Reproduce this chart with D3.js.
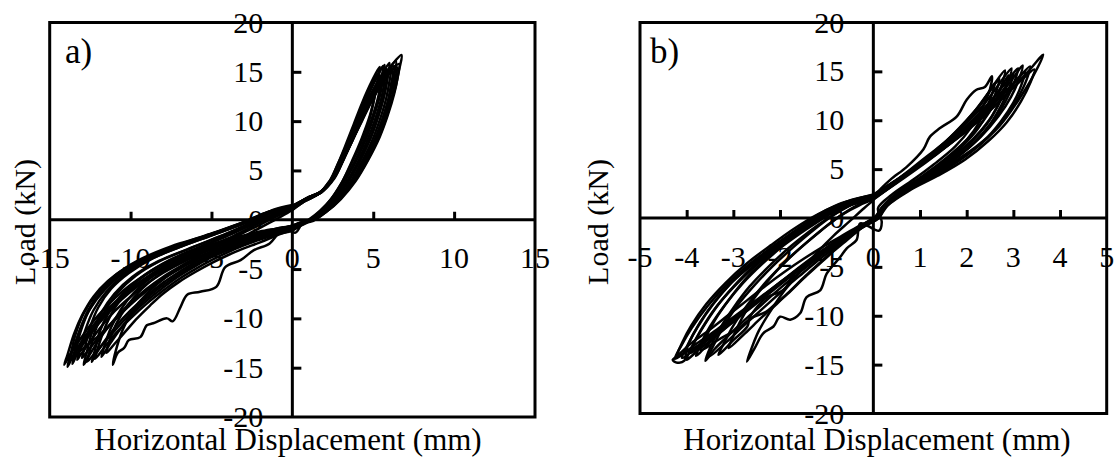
<!DOCTYPE html>
<html>
<head>
<meta charset="utf-8">
<script src="https://cdn.jsdelivr.net/npm/d3@7"></script>
<style>
  body { margin: 0; background: #fff; }
  text { font-family: "Liberation Serif", "Times New Roman", serif; fill: #000; }
</style>
</head>
<body>
<svg id="chart" width="1114" height="461"></svg>
<script>
// ---------- Tick labels ----------
const xTicksA = [-15, -10, -5, 0, 5, 10, 15];
const xTicksB = [-5, -4, -3, -2, -1, 0, 1, 2, 3, 4, 5];
const yTicks = [-20, -15, -10, -5, 0, 5, 10, 15, 20];

// ---------- Specimen a: load cycles [displacement mm, load kN] ----------
const cycleA1 = [[0,1.0],[0.8,1.9],[1.6,2.6],[2.3,3.9],[2.8,5.6],[3.3,7.6],[3.8,9.7],[4.3,11.8],[4.9,14.0],[5.4,15.5],
  [5.3,14.2],[5.1,12.6],[4.8,10.6],[4.3,8.3],[3.7,6.0],[3.1,3.9],[2.4,2.1],[1.7,0.9],[1.0,0.0],
  [0.6,-0.4],[0.2,-1.3],[-0.4,-1.0],[-0.8,-1.3],[-1.4,-2.4],[-2.4,-3.1],[-3.2,-4.1],[-4.15,-4.8],[-4.7,-6.8],[-5.7,-7.3],
  [-6.5,-7.6],[-6.9,-8.8],[-7.4,-10.3],[-7.75,-10.0],[-8.6,-10.5],[-9.0,-10.7],[-9.4,-11.9],[-10.1,-12.2],[-10.4,-13.0],
  [-10.8,-13.5],[-11.1,-14.7],
  [-10.9,-13.2],[-10.5,-11.2],[-9.9,-9.3],[-9.0,-7.5],[-7.8,-5.8],[-6.3,-4.3],[-4.6,-3.0],[-2.9,-1.6],[-1.4,-0.3],[-0.3,0.7],[0,1.0]];
const cycleA2 = [[0,1.1],[0.8,2.0],[1.7,2.7],[2.4,4.0],[2.9,5.7],[3.4,7.5],[3.9,9.5],[4.4,11.5],[5.0,13.7],[5.7,15.7],
  [5.6,14.3],[5.4,12.5],[5.0,10.3],[4.5,8.0],[3.9,5.8],[3.2,3.8],[2.5,2.1],[1.8,0.8],[1.1,0.0],
  [0.5,-0.5],[0,-0.9],[-1,-1.4],[-2,-1.9],[-3,-2.5],[-4,-3.1],[-5,-3.8],[-6,-4.7],[-7,-5.7],[-8,-6.9],[-9,-8.2],
  [-9.9,-9.6],[-10.6,-11.0],[-11.2,-12.4],[-11.8,-13.9],
  [-11.6,-12.7],[-11.2,-10.9],[-10.6,-9.1],[-9.8,-7.4],[-8.7,-5.8],[-7.2,-4.2],[-5.4,-2.9],[-3.6,-1.6],[-2.0,-0.3],[-0.8,0.6],[0,1.1]];
const cycleA3 = [[0,1.2],[0.9,2.1],[1.8,2.8],[2.5,4.1],[3.0,5.7],[3.5,7.5],[4.0,9.4],[4.6,11.6],[5.2,13.6],[5.9,15.2],
  [5.8,13.9],[5.6,12.2],[5.2,10.0],[4.7,7.8],[4.1,5.7],[3.4,3.7],[2.6,2.0],[1.9,0.8],[1.2,0.0],
  [0.5,-0.4],[0,-0.8],[-1,-1.2],[-2,-1.7],[-3,-2.2],[-4,-2.8],[-5,-3.5],[-6,-4.3],[-7,-5.3],[-8,-6.4],[-9,-7.7],
  [-10,-9.2],[-10.8,-10.6],[-11.6,-12.3],[-12.1,-13.5],[-12.4,-14.4],
  [-12.2,-13.2],[-11.9,-11.3],[-11.3,-9.3],[-10.5,-7.5],[-9.4,-5.9],[-7.9,-4.4],[-6.0,-3.0],[-4.1,-1.7],[-2.4,-0.4],[-1.0,0.6],[0,1.2]];
const cycleA4 = [[0,1.2],[0.9,2.1],[1.8,2.8],[2.5,4.1],[3.0,5.8],[3.6,7.8],[4.1,9.6],[4.7,11.7],[5.4,13.8],[6.1,15.4],
  [6.0,14.0],[5.8,12.3],[5.4,10.1],[4.9,7.9],[4.2,5.6],[3.5,3.6],[2.7,1.9],[2.0,0.8],[1.3,0.0],
  [0.5,-0.4],[0,-0.7],[-1,-1.1],[-2,-1.5],[-3,-2.0],[-4,-2.6],[-5,-3.2],[-6,-3.9],[-7,-4.8],[-8,-5.8],[-9,-7.0],
  [-10,-8.4],[-11,-10.1],[-11.8,-11.8],[-12.5,-13.6],[-12.9,-14.7],
  [-12.7,-13.4],[-12.4,-11.5],[-11.8,-9.4],[-11.0,-7.5],[-9.9,-5.8],[-8.4,-4.3],[-6.5,-3.0],[-4.5,-1.7],[-2.7,-0.4],[-1.2,0.7],[0,1.2]];
const cycleA5 = [[0,1.3],[0.9,2.2],[1.8,2.9],[2.5,4.2],[3.1,6.0],[3.6,7.8],[4.2,9.9],[4.8,11.9],[5.5,14.0],[6.3,15.6],
  [6.2,14.2],[6.0,12.5],[5.6,10.3],[5.1,8.1],[4.4,5.8],[3.7,3.8],[2.8,2.0],[2.0,0.8],[1.3,0.0],
  [0.5,-0.3],[0,-0.6],[-1,-1.0],[-2,-1.4],[-3,-1.9],[-4,-2.4],[-5,-3.0],[-6,-3.7],[-7,-4.5],[-8,-5.4],[-9,-6.5],
  [-10,-7.8],[-11,-9.3],[-11.9,-11.0],[-12.6,-12.6],[-13.1,-13.7],[-13.3,-14.2],
  [-13.1,-13.0],[-12.8,-11.2],[-12.3,-9.2],[-11.5,-7.3],[-10.4,-5.6],[-8.9,-4.1],[-7.0,-2.8],[-5.0,-1.6],[-3.0,-0.4],[-1.4,0.7],[0,1.3]];
const cycleA6 = [[0,1.3],[0.9,2.2],[1.8,2.9],[2.6,4.3],[3.1,6.0],[3.7,8.0],[4.3,10.1],[4.9,12.1],[5.6,14.0],[6.45,15.5],
  [6.35,14.1],[6.15,12.4],[5.8,10.3],[5.3,8.2],[4.6,5.9],[3.8,3.8],[2.9,2.0],[2.1,0.8],[1.3,-0.1],
  [0.5,-0.4],[0,-0.7],[-1,-1.0],[-2,-1.4],[-3,-1.8],[-4,-2.3],[-5,-2.9],[-6,-3.5],[-7,-4.2],[-8,-5.1],[-9,-6.1],
  [-10,-7.3],[-11,-8.8],[-12,-10.6],[-12.8,-12.3],[-13.3,-13.6],[-13.6,-14.6],
  [-13.4,-13.3],[-13.1,-11.4],[-12.6,-9.3],[-11.8,-7.3],[-10.7,-5.5],[-9.2,-4.0],[-7.3,-2.7],[-5.2,-1.5],[-3.1,-0.3],[-1.5,0.8],[0,1.3]];
const cycleA7 = [[0,1.4],[0.9,2.2],[1.8,2.9],[2.6,4.3],[3.2,6.2],[3.7,8.0],[4.3,10.0],[4.9,12.0],[5.6,14.0],[6.6,15.8],
  [6.5,14.4],[6.3,12.8],[5.9,10.6],[5.4,8.4],[4.7,6.1],[3.9,3.9],[3.0,2.1],[2.1,0.8],[1.3,0.0],
  [0.5,-0.3],[0,-0.6],[-1,-0.9],[-2,-1.3],[-3,-1.7],[-4,-2.2],[-5,-2.7],[-6,-3.3],[-7,-4.0],[-8,-4.8],[-9,-5.8],
  [-10,-7.0],[-11,-8.4],[-12,-10.1],[-12.9,-12.0],[-13.5,-13.6],[-13.9,-14.9],
  [-13.7,-13.6],[-13.4,-11.6],[-12.9,-9.5],[-12.1,-7.5],[-11.0,-5.7],[-9.5,-4.1],[-7.5,-2.7],[-5.3,-1.6],[-3.2,-0.4],[-1.5,0.8],[0,1.4]];
const cycleA8 = [[0,1.4],[0.9,2.2],[1.8,2.9],[2.5,4.2],[3.1,6.0],[3.7,8.0],[4.3,10.2],[4.9,12.3],[5.5,14.2],[6.1,15.6],[6.75,16.7],
  [6.6,15.2],[6.4,13.6],[6.0,11.5],[5.4,8.9],[4.7,6.5],[3.9,4.2],[3.0,2.4],[2.2,1.1],[1.3,0.1],
  [0.5,-0.3],[0,-0.6],[-1,-0.9],[-2,-1.2],[-3,-1.6],[-4,-2.0],[-5,-2.5],[-6,-3.1],[-7,-3.8],[-8,-4.6],[-9,-5.5],
  [-10,-6.6],[-11,-8.0],[-12,-9.7],[-12.9,-11.6],[-13.6,-13.3],[-14.1,-14.7],
  [-13.9,-13.7],[-13.5,-11.6],[-13.0,-9.7],[-12.3,-7.8],[-11.4,-6.2],[-10.3,-4.9],[-8.8,-3.7],[-6.8,-2.5],[-4.6,-1.3],[-2.6,-0.1],[-1.2,1.0],[0,1.5]];
const cycleA9 = [[0,1.3],[0.9,2.1],[1.8,2.8],[2.6,4.2],[3.1,5.9],[3.5,7.6],[3.9,9.2],[4.3,10.6],[4.6,12.4],[5.0,12.9],[5.5,14.0],[6.2,15.0],
  [6.1,13.7],[5.9,12.0],[5.5,9.9],[5.0,7.8],[4.3,5.6],[3.6,3.7],[2.8,2.0],[2.0,0.8],[1.3,0.0],
  [0.5,-0.4],[0,-0.8],[-1,-1.2],[-2,-1.6],[-3,-2.1],[-4,-2.7],[-5,-3.3],[-6,-4.1],[-7,-5.0],[-8,-6.0],[-9,-7.2],
  [-10,-8.6],[-11,-10.2],[-12,-11.8],[-12.9,-13.0],[-13.7,-14.0],
  [-13.5,-12.9],[-13.1,-11.0],[-12.5,-9.0],[-11.6,-7.1],[-10.5,-5.5],[-9.0,-4.0],[-7.1,-2.7],[-5.1,-1.5],[-3.1,-0.3],[-1.4,0.7],[0,1.3]];
const cycleA10 = [[0,1.0],[0.8,1.9],[1.6,2.6],[2.3,3.9],[2.8,5.6],[3.3,7.4],[3.8,9.4],[4.3,11.4],[4.9,13.6],[5.6,15.6],
  [5.5,14.2],[5.3,12.4],[4.9,10.2],[4.4,7.9],[3.8,5.7],[3.1,3.7],[2.4,2.0],[1.7,0.8],[1.0,-0.1],
  [0.5,-0.6],[0,-1.0],[-1,-1.6],[-2,-2.3],[-3,-2.9],[-4,-3.6],[-5,-4.4],[-6,-5.3],[-7,-6.3],[-8,-7.5],[-8.8,-8.7],
  [-9.6,-10.0],[-10.3,-11.3],[-11.0,-12.6],[-11.5,-13.5],
  [-11.3,-12.3],[-10.9,-10.6],[-10.2,-8.7],[-9.3,-7.0],[-8.1,-5.4],[-6.5,-3.9],[-4.7,-2.6],[-3.0,-1.3],[-1.5,-0.1],[-0.5,0.7],[0,1.0]];
const cycleA11 = [[0,1.2],[0.85,2.1],[1.75,2.8],[2.45,4.1],[3.0,5.9],[3.5,7.7],[4.0,9.6],[4.6,11.8],[5.3,14.0],[6.0,15.9],
  [5.9,14.5],[5.7,12.7],[5.3,10.4],[4.8,8.1],[4.1,5.8],[3.4,3.8],[2.6,2.0],[1.9,0.8],[1.2,0.0],
  [0.5,-0.5],[0,-0.8],[-1,-1.2],[-2,-1.6],[-3,-2.1],[-4,-2.6],[-5,-3.2],[-6,-4.0],[-7,-4.9],[-8,-5.9],[-9,-7.1],
  [-10,-8.5],[-11,-10.2],[-12,-12.0],[-12.6,-13.2],[-13.0,-14.0],
  [-12.8,-12.8],[-12.5,-10.9],[-12.0,-8.9],[-11.2,-7.0],[-10.1,-5.4],[-8.6,-3.9],[-6.7,-2.6],[-4.7,-1.4],[-2.8,-0.2],[-1.2,0.8],[0,1.2]];
const cycleA12 = [[0,1.1],[0.8,2.0],[1.7,2.7],[2.35,3.9],[2.85,5.6],[3.3,7.3],[3.75,9.2],[4.2,11.1],[4.75,13.2],[5.3,14.8],
  [5.2,13.5],[5.0,11.8],[4.7,9.8],[4.2,7.6],[3.6,5.5],[3.0,3.6],[2.3,1.9],[1.6,0.7],[1.0,-0.2],
  [0.4,-0.7],[0,-1.1],[-1,-1.5],[-2,-2.0],[-3,-2.6],[-4,-3.3],[-5,-4.1],[-6,-5.0],[-7,-6.0],[-8,-7.2],[-9,-8.5],
  [-10,-10.0],[-10.9,-11.5],[-11.6,-12.9],[-12.2,-14.1],
  [-12.0,-12.9],[-11.6,-11.0],[-11.0,-9.0],[-10.2,-7.2],[-9.1,-5.6],[-7.6,-4.1],[-5.8,-2.8],[-3.9,-1.5],[-2.2,-0.3],[-0.9,0.6],[0,1.1]];
const cycleA13 = [[0,1.35],[0.9,2.15],[1.8,2.85],[2.55,4.25],[3.15,6.1],[3.65,7.9],[4.25,10.0],[4.85,12.1],[5.55,14.2],[6.4,16.1],
  [6.3,14.6],[6.1,12.9],[5.75,10.7],[5.25,8.5],[4.55,6.1],[3.8,4.0],[2.9,2.1],[2.05,0.8],[1.3,0.0],
  [0.5,-0.35],[0,-0.65],[-1,-0.95],[-2,-1.35],[-3,-1.8],[-4,-2.3],[-5,-2.8],[-6,-3.4],[-7,-4.1],[-8,-4.95],[-9,-5.95],
  [-10,-7.15],[-11,-8.6],[-12,-10.4],[-12.9,-12.3],[-13.4,-13.5],[-13.6,-14.2],
  [-13.4,-13.0],[-13.1,-11.1],[-12.6,-9.1],[-11.8,-7.2],[-10.7,-5.5],[-9.2,-4.0],[-7.2,-2.7],[-5.1,-1.5],[-3.0,-0.3],[-1.4,0.8],[0,1.35]];
const cycleA14 = [[0,1.15],[0.85,2.05],[1.75,2.75],[2.45,4.05],[2.95,5.7],[3.45,7.5],[3.95,9.4],[4.5,11.5],[5.1,13.5],[5.8,15.3],
  [5.7,14.0],[5.5,12.3],[5.1,10.1],[4.6,7.9],[4.0,5.7],[3.3,3.7],[2.55,2.0],[1.85,0.8],[1.15,0.0],
  [0.5,-0.45],[0,-0.85],[-1,-1.3],[-2,-1.8],[-3,-2.35],[-4,-2.95],[-5,-3.65],[-6,-4.5],[-7,-5.5],[-8,-6.65],[-9,-7.95],
  [-10,-9.5],[-10.9,-11.1],[-11.7,-12.6],[-12.3,-13.7],[-12.7,-14.4],
  [-12.5,-13.2],[-12.2,-11.3],[-11.6,-9.3],[-10.8,-7.4],[-9.7,-5.7],[-8.2,-4.2],[-6.3,-2.9],[-4.3,-1.6],[-2.5,-0.4],[-1.1,0.6],[0,1.15]];
const cyclesA = [cycleA1, cycleA2, cycleA3, cycleA4, cycleA5, cycleA6, cycleA7,
  cycleA8, cycleA9, cycleA10, cycleA11, cycleA12, cycleA13, cycleA14];

// ---------- Specimen b: load cycles [displacement mm, load kN] ----------
const cycleB1 = [[0,1.8],[0.07,2.5],[0.36,3.9],[0.71,5.2],[1.07,7.0],[1.21,8.3],[1.43,9.2],[1.79,10.4],[2.0,12.1],[2.2,13.1],[2.39,13.4],[2.54,14.5],
  [2.5,13.2],[2.35,11.4],[2.1,9.3],[1.75,7.3],[1.3,5.5],[0.85,3.9],[0.4,2.4],[0.1,1.0],[0.18,-0.4],[0.12,-1.3],
  [-0.28,-0.55],[-0.36,-2.25],[-0.57,-3.1],[-0.71,-4.0],[-1.0,-5.7],[-1.14,-7.4],[-1.43,-8.1],[-1.57,-9.75],[-1.78,-10.4],
  [-2.0,-10.1],[-2.14,-11.1],[-2.36,-11.8],[-2.53,-13.2],[-2.71,-14.7],
  [-2.6,-13.2],[-2.45,-11.5],[-2.2,-9.5],[-1.9,-7.4],[-1.55,-5.4],[-1.2,-3.5],[-0.85,-1.8],[-0.5,-0.3],[-0.2,1.0],[0,1.8]];
const cycleB2 = [[0,2.0],[0.4,3.4],[0.8,4.9],[1.2,6.4],[1.6,8.0],[2.0,9.8],[2.3,11.6],[2.55,13.4],[2.82,15.1],
  [2.75,13.6],[2.6,11.8],[2.35,9.9],[2.0,8.0],[1.55,6.1],[1.05,4.3],[0.55,2.7],[0.2,1.2],[0.05,0.2],
  [-0.2,-0.6],[-0.5,-1.6],[-0.8,-2.7],[-1.1,-3.7],[-1.4,-4.6],[-1.64,-5.3],[-1.93,-7.4],[-2.28,-8.1],[-2.64,-10.1],
  [-2.7,-11.1],[-3.0,-12.5],[-3.32,-14.0],
  [-3.2,-12.8],[-3.0,-11.0],[-2.7,-8.9],[-2.35,-6.8],[-1.95,-4.8],[-1.55,-3.0],[-1.15,-1.4],[-0.75,0.1],[-0.35,1.3],[0,2.0]];
const cycleB3 = [[0,2.1],[0.4,3.5],[0.8,5.0],[1.2,6.5],[1.6,8.0],[2.0,9.7],[2.35,11.5],[2.65,13.4],[2.96,15.3],
  [2.88,13.8],[2.72,12.0],[2.48,10.0],[2.12,8.0],[1.65,6.1],[1.12,4.3],[0.6,2.7],[0.22,1.2],[0.05,0.1],
  [-0.3,-1.1],[-0.6,-2.2],[-0.9,-3.3],[-1.2,-4.4],[-1.5,-5.6],[-1.8,-6.8],[-2.1,-8.1],[-2.45,-9.6],[-2.8,-11.1],
  [-3.15,-12.7],[-3.53,-14.2],
  [-3.42,-13.0],[-3.22,-11.2],[-2.92,-9.0],[-2.55,-6.9],[-2.15,-4.9],[-1.72,-3.0],[-1.3,-1.3],[-0.85,0.3],[-0.4,1.5],[0,2.1]];
const cycleB4 = [[0,2.2],[0.45,3.7],[0.9,5.2],[1.35,6.8],[1.75,8.4],[2.15,10.1],[2.5,11.9],[2.8,13.6],[3.1,15.3],
  [3.02,13.9],[2.85,12.1],[2.6,10.1],[2.25,8.1],[1.78,6.2],[1.22,4.4],[0.67,2.8],[0.25,1.3],[0.08,0.2],
  [-0.3,-0.9],[-0.7,-2.1],[-1.1,-3.4],[-1.5,-4.8],[-1.9,-6.3],[-2.3,-7.8],[-2.7,-9.3],[-3.1,-10.8],[-3.5,-12.3],[-3.93,-13.8],
  [-3.82,-12.6],[-3.6,-10.8],[-3.28,-8.6],[-2.88,-6.4],[-2.45,-4.4],[-1.98,-2.6],[-1.5,-1.0],[-1.0,0.5],[-0.5,1.6],[0,2.2]];
const cycleB5 = [[0,2.3],[0.5,3.9],[1.0,5.5],[1.45,7.1],[1.9,8.8],[2.3,10.5],[2.7,12.3],[3.05,14.0],[3.36,15.5],
  [3.28,14.1],[3.1,12.3],[2.82,10.2],[2.45,8.2],[1.95,6.3],[1.35,4.5],[0.75,2.9],[0.3,1.4],[0.1,0.2],
  [-0.35,-1.0],[-0.75,-2.2],[-1.15,-3.5],[-1.55,-4.9],[-1.95,-6.4],[-2.35,-7.9],[-2.75,-9.4],[-3.2,-11.0],[-3.65,-12.7],[-4.1,-14.3],
  [-3.98,-13.0],[-3.76,-11.1],[-3.43,-8.8],[-3.02,-6.5],[-2.56,-4.5],[-2.08,-2.7],[-1.58,-1.0],[-1.06,0.5],[-0.52,1.7],[0,2.3]];
const cycleB6 = [[0,2.4],[0.5,3.9],[1.0,5.5],[1.5,7.1],[2.0,8.9],[2.5,11.0],[2.9,12.9],[3.3,14.9],[3.64,16.7],
  [3.4,14.3],[3.1,12.0],[2.7,9.4],[2.2,7.3],[1.6,5.4],[1.0,3.8],[0.5,2.4],[0.15,0.8],[0.1,0.0],
  [-0.5,-1.6],[-1.0,-3.2],[-1.5,-4.9],[-2.0,-6.7],[-2.5,-8.6],[-3.0,-10.5],[-3.5,-12.3],[-4.0,-13.7],[-4.3,-14.5],[-4.2,-14.8],
  [-4.05,-14.6],[-4.0,-13.4],[-3.85,-11.8],[-3.55,-9.5],[-3.1,-6.9],[-2.6,-4.8],[-2.1,-2.9],[-1.6,-1.2],[-1.2,0.3],[-0.8,1.3],[-0.4,1.9],[0,2.4]];
const cycleB7 = [[0,2.0],[0.45,3.4],[0.9,4.9],[1.35,6.5],[1.8,8.2],[2.2,9.9],[2.55,11.6],[2.8,13.2],[3.0,14.8],
  [2.92,13.4],[2.75,11.6],[2.5,9.6],[2.15,7.7],[1.7,5.9],[1.15,4.1],[0.62,2.6],[0.25,1.1],[0.12,0.0],
  [-0.25,-0.9],[-0.6,-2.0],[-1.0,-3.2],[-1.4,-4.5],[-1.8,-5.9],[-2.2,-7.4],[-2.6,-9.0],[-3.0,-10.6],[-3.4,-12.2],[-3.75,-13.5],[-4.0,-14.5],
  [-3.9,-13.3],[-3.7,-11.5],[-3.4,-9.3],[-3.0,-7.1],[-2.55,-5.0],[-2.08,-3.1],[-1.6,-1.4],[-1.1,0.1],[-0.55,1.3],[0,2.0]];
const cycleB8 = [[0,2.2],[0.5,3.7],[0.95,5.2],[1.4,6.7],[1.85,8.4],[2.25,10.1],[2.6,11.8],[2.95,13.5],[3.25,15.0],
  [3.17,13.6],[3.0,11.8],[2.72,9.8],[2.35,7.8],[1.85,5.9],[1.28,4.2],[0.7,2.7],[0.28,1.2],[0.1,0.1],
  [-0.3,-0.8],[-0.7,-1.9],[-1.1,-3.0],[-1.5,-4.2],[-1.9,-5.5],[-2.3,-6.9],[-2.7,-8.4],[-3.1,-9.9],[-3.5,-11.4],[-3.9,-12.8],[-4.2,-14.0],
  [-4.1,-12.8],[-3.9,-11.0],[-3.58,-8.8],[-3.16,-6.6],[-2.7,-4.6],[-2.2,-2.8],[-1.7,-1.1],[-1.18,0.4],[-0.6,1.6],[0,2.2]];
const cycleB9 = [[0,1.9],[0.4,3.3],[0.8,4.7],[1.2,6.2],[1.55,7.8],[1.9,9.5],[2.2,11.1],[2.45,12.7],[2.7,14.2],
  [2.63,12.9],[2.48,11.1],[2.25,9.2],[1.92,7.4],[1.48,5.6],[0.98,3.9],[0.5,2.4],[0.18,1.0],[0.05,0.0],
  [-0.3,-1.2],[-0.6,-2.4],[-0.9,-3.6],[-1.2,-4.9],[-1.5,-6.2],[-1.8,-7.6],[-2.1,-8.8],[-2.3,-9.6],[-2.6,-10.2],[-2.9,-11.3],[-3.3,-12.4],[-3.7,-13.5],
  [-3.6,-12.3],[-3.4,-10.5],[-3.1,-8.4],[-2.75,-6.3],[-2.35,-4.4],[-1.9,-2.6],[-1.45,-1.0],[-0.95,0.4],[-0.45,1.4],[0,1.9]];
const cycleB10 = [[0,2.15],[0.45,3.6],[0.9,5.1],[1.35,6.6],[1.8,8.3],[2.2,10.0],[2.55,11.8],[2.9,13.7],[3.2,15.6],
  [3.12,14.2],[2.95,12.4],[2.68,10.4],[2.3,8.3],[1.82,6.3],[1.25,4.5],[0.68,2.9],[0.26,1.3],[0.08,0.1],
  [-0.3,-1.0],[-0.65,-2.1],[-1.0,-3.3],[-1.4,-4.7],[-1.8,-6.1],[-2.2,-7.6],[-2.6,-9.1],[-3.0,-10.6],[-3.4,-12.2],[-3.8,-14.1],
  [-3.7,-12.9],[-3.5,-11.1],[-3.18,-8.9],[-2.8,-6.7],[-2.38,-4.7],[-1.92,-2.8],[-1.45,-1.2],[-0.96,0.3],[-0.48,1.5],[0,2.15]];
const cycleB11 = [[0,2.0],[0.42,3.45],[0.85,4.95],[1.28,6.45],[1.7,8.1],[2.1,9.8],[2.45,11.5],[2.7,13.1],[2.9,14.6],
  [2.83,13.3],[2.67,11.5],[2.43,9.6],[2.08,7.7],[1.63,5.9],[1.1,4.2],[0.58,2.6],[0.22,1.1],[0.06,0.0],
  [-0.3,-1.0],[-0.65,-2.2],[-1.0,-3.4],[-1.35,-4.7],[-1.7,-6.0],[-2.05,-7.4],[-2.4,-8.9],[-2.75,-10.4],[-3.1,-12.0],[-3.4,-13.4],[-3.6,-14.6],
  [-3.5,-13.3],[-3.3,-11.4],[-3.0,-9.2],[-2.65,-7.0],[-2.25,-5.0],[-1.82,-3.1],[-1.38,-1.4],[-0.9,0.2],[-0.45,1.4],[0,2.0]];
const cycleB12 = [[0,2.35],[0.5,3.85],[1.0,5.45],[1.48,7.05],[1.95,8.8],[2.4,10.6],[2.8,12.4],[3.15,14.0],[3.45,15.2],
  [3.36,13.8],[3.16,11.9],[2.86,9.8],[2.47,7.9],[1.97,6.0],[1.37,4.3],[0.77,2.8],[0.31,1.3],[0.12,0.1],
  [-0.4,-1.2],[-0.8,-2.5],[-1.2,-3.8],[-1.6,-5.2],[-2.0,-6.6],[-2.45,-8.2],[-2.9,-9.8],[-3.35,-11.4],[-3.8,-12.9],[-4.25,-14.4],
  [-4.12,-13.1],[-3.9,-11.3],[-3.55,-9.0],[-3.12,-6.7],[-2.65,-4.7],[-2.15,-2.9],[-1.64,-1.2],[-1.12,0.4],[-0.56,1.7],[0,2.35]];
const cycleB13 = [[0,1.9],[0.38,3.2],[0.76,4.6],[1.14,6.0],[1.5,7.6],[1.85,9.2],[2.15,10.8],[2.4,12.3],[2.6,13.8],
  [2.53,12.5],[2.38,10.8],[2.15,8.9],[1.83,7.1],[1.4,5.3],[0.92,3.7],[0.46,2.2],[0.16,0.9],[0.04,0.0],
  [-0.25,-1.0],[-0.55,-2.1],[-0.85,-3.3],[-1.15,-4.6],[-1.45,-5.9],[-1.75,-7.3],[-2.05,-8.7],[-2.4,-10.2],[-2.75,-11.8],[-3.1,-13.3],
  [-3.0,-12.1],[-2.82,-10.3],[-2.55,-8.2],[-2.22,-6.2],[-1.85,-4.3],[-1.45,-2.6],[-1.05,-1.0],[-0.65,0.4],[-0.3,1.3],[0,1.9]];
const cyclesB = [cycleB1, cycleB2, cycleB3, cycleB4, cycleB5, cycleB6, cycleB7,
  cycleB8, cycleB9, cycleB10, cycleB11, cycleB12, cycleB13];

// ---------- Drawing ----------
const svg = d3.select("#chart");

function drawPanel(opt) {
  const x = d3.scaleLinear().domain([opt.xTicks[0], opt.xTicks[opt.xTicks.length - 1]]).range(opt.xRange);
  const y = d3.scaleLinear().domain([yTicks[0], yTicks[yTicks.length - 1]]).range(opt.yRange);
  const g = svg.append("g");
  const [x0, x1] = x.range();
  const [yb, yt] = y.range();

  // tick labels
  g.selectAll("text.xl").data(opt.xTicks).join("text")
    .attr("class", "xl")
    .attr("x", d => x(d)).attr("y", y(0) + 48.5)
    .attr("text-anchor", "middle").attr("font-size", 30)
    .text(d => d);
  g.selectAll("text.yl").data(yTicks).join("text")
    .attr("class", "yl")
    .attr("x", x(0) - 29).attr("y", d => y(d) + 10)
    .attr("text-anchor", "end").attr("font-size", 30)
    .text(d => d);

  // hysteresis curves
  const line = d3.line().x(d => x(d[0])).y(d => y(d[1])).curve(d3.curveCatmullRom.alpha(0.5));
  g.selectAll("path.loop").data(opt.cycles).join("path")
    .attr("class", "loop")
    .attr("d", line)
    .attr("fill", "none").attr("stroke", "#000")
    .attr("stroke-width", 2.5).attr("stroke-linejoin", "round");

  // plot frame and zero axes
  g.append("rect")
    .attr("x", x0).attr("y", yt).attr("width", x1 - x0).attr("height", yb - yt)
    .attr("fill", "none").attr("stroke", "#000").attr("stroke-width", 3);
  g.append("line").attr("x1", x0).attr("x2", x1).attr("y1", y(0)).attr("y2", y(0))
    .attr("stroke", "#000").attr("stroke-width", 3);
  g.append("line").attr("x1", x(0)).attr("x2", x(0)).attr("y1", yt).attr("y2", yb)
    .attr("stroke", "#000").attr("stroke-width", 3);

  // tick marks on the zero axes
  const xAxis = g.append("g").attr("transform", `translate(0,${y(0)})`)
    .call(d3.axisTop(x).tickValues(opt.xTicks.filter(d => d !== 0 && d !== x.domain()[0] && d !== x.domain()[1]))
      .tickSize(8).tickFormat(""));
  const yAxis = g.append("g").attr("transform", `translate(${x(0)},0)`)
    .call(d3.axisRight(y).tickValues(yTicks.filter(d => d !== 0 && Math.abs(d) !== 20))
      .tickSize(9).tickFormat(""));
  [xAxis, yAxis].forEach(a => {
    a.select(".domain").remove();
    a.selectAll(".tick line").attr("stroke", "#000").attr("stroke-width", 3);
  });

  // panel letter and axis titles
  g.append("text").attr("x", opt.letterX).attr("y", 63).attr("font-size", 35).text(opt.letter);
  g.append("text").attr("x", opt.titleX).attr("y", 450)
    .attr("text-anchor", "middle").attr("font-size", 31)
    .text("Horizontal Displacement (mm)");
  g.append("text")
    .attr("transform", `translate(${opt.loadX},222) rotate(-90)`)
    .attr("text-anchor", "middle").attr("font-size", 30)
    .text("Load (kN)");
}

drawPanel({ xTicks: xTicksA, xRange: [49.7, 535], yRange: [417, 22.5], cycles: cyclesA,
  letter: "a)", letterX: 65, titleX: 288, loadX: 34.5 });
drawPanel({ xTicks: xTicksB, xRange: [640, 1106.7], yRange: [413.5, 22.5], cycles: cyclesB,
  letter: "b)", letterX: 650, titleX: 877, loadX: 608 });
</script>
</body>
</html>
